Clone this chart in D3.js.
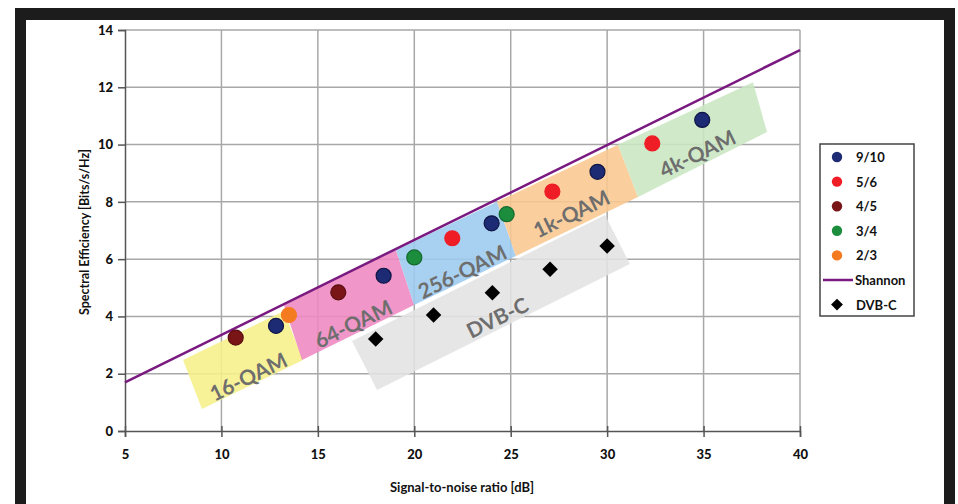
<!DOCTYPE html>
<html>
<head>
<meta charset="utf-8">
<script src="https://cdn.jsdelivr.net/npm/d3@7/dist/d3.min.js"></script>
<style>
  html, body { margin: 0; padding: 0; background: #fff; }
  svg { display: block; }
  text { font-family: Lato, "Open Sans", "DejaVu Sans", sans-serif; font-weight: bold; }
</style>
</head>
<body>
<svg id="chart" width="958" height="504"></svg>
<script>
// ---------------- data ----------------
const xTicks = [5, 10, 15, 20, 25, 30, 35, 40];
const yTicks = [0, 2, 4, 6, 8, 10, 12, 14];
const xTitle = "Signal-to-noise ratio [dB]";
const yTitle = "Spectral Efficiency [Bits/s/Hz]";

const seriesNames = ["9/10", "5/6", "4/5", "3/4", "2/3"];
const rate910 = [[12.83, 3.67], [18.41, 5.42], [24.01, 7.25], [29.5, 9.05], [34.93, 10.86]];
const rate56  = [[21.97, 6.73], [27.16, 8.36], [32.34, 10.04]];
const rate45  = [[10.74, 3.26], [16.06, 4.84]];
const rate34  = [[20.0, 6.06], [24.79, 7.57]];
const rate23  = [[13.5, 4.05]];
const dvbC    = [[18.0, 3.21], [21.0, 4.05], [24.05, 4.83], [27.04, 5.65], [30.0, 6.46]];
const shannon = [[5, 1.7], [40, 13.3]];

// band outlines (corners in dB / bits) and label anchors
const bandNames = ["DVB-C", "16-QAM", "64-QAM", "256-QAM", "1k-QAM", "4k-QAM"];
const bandCorners = [
  [[16.77, 3.14], [29.89, 7.54], [31.18, 5.83], [18.07, 1.43]],
  [[8.01, 2.48], [13.24, 4.19], [14.23, 2.48], [8.99, 0.77]],
  [[13.24, 4.40], [19.05, 6.32], [19.99, 4.40], [14.18, 2.48]],
  [[19.05, 6.32], [24.29, 8.0], [25.27, 6.11], [19.99, 4.40]],
  [[24.29, 8.0], [30.56, 9.99], [31.6, 8.17], [25.27, 6.11]],
  [[30.56, 9.99], [37.56, 12.18], [38.29, 10.44], [31.6, 8.17]]
];
const bandLabelAt = [[24.29, 3.98], [11.38, 1.92], [16.82, 3.77], [22.47, 5.59], [28.13, 7.61], [34.66, 9.71]];

// ---------------- styles ----------------
const bandFill = ["#e3e3e3", "#f6ef8a", "#ee88c0", "#9cc9ee", "#fbc890", "#c9e7c1"];
const seriesFill = { "9/10": "#1c2b74", "5/6": "#ee1d26", "4/5": "#7a1517", "3/4": "#1b8d3d", "2/3": "#f57b20" };
const seriesStroke = { "9/10": "#0e1545", "5/6": "#ee1d26", "4/5": "#5a0e10", "3/4": "#146a2e", "2/3": "#f57b20" };
const seriesData = { "9/10": rate910, "5/6": rate56, "4/5": rate45, "3/4": rate34, "2/3": rate23 };

const svg = d3.select("#chart");

// frame
const frame = svg.append("g");
frame.append("rect").attr("x", 15).attr("y", 8).attr("width", 940).attr("height", 12).attr("fill", "#1c1c1c");
frame.append("rect").attr("x", 15).attr("y", 8).attr("width", 11).attr("height", 496).attr("fill", "#1c1c1c");
frame.append("rect").attr("x", 944).attr("y", 8).attr("width", 11).attr("height", 496).attr("fill", "#1c1c1c");

const x = d3.scaleLinear().domain([5, 40]).range([125, 800]);
const y = d3.scaleLinear().domain([0, 14]).range([431, 30]);

// grid
const grid = svg.append("g");
grid.selectAll("line.v").data(xTicks.slice(1)).join("line")
  .attr("x1", d => x(d)).attr("x2", d => x(d)).attr("y1", y(0)).attr("y2", y(14))
  .attr("stroke", "#a8a8a8").attr("stroke-width", 1.5);
grid.selectAll("line.h").data(yTicks.slice(1)).join("line")
  .attr("x1", x(5)).attr("x2", x(40)).attr("y1", d => y(d)).attr("y2", d => y(d))
  .attr("stroke", "#a8a8a8").attr("stroke-width", 1.5);

// bands
const line = d3.line().x(d => x(d[0])).y(d => y(d[1]));
const bands = svg.append("g");
bandCorners.forEach((c, i) => {
  bands.append("path").attr("d", line(c) + "Z").attr("fill", bandFill[i]).attr("fill-opacity", 0.88);
});
bandNames.forEach((n, i) => {
  const p = bandLabelAt[i];
  bands.append("text")
    .attr("transform", `translate(${x(p[0])},${y(p[1])}) rotate(-26)`)
    .attr("text-anchor", "middle").attr("dominant-baseline", "central")
    .attr("font-size", 21).attr("fill", "#6e6e6e").text(n);
});

// axes
const yAxis = svg.append("g").attr("transform", `translate(${x(5)},0)`)
  .call(d3.axisLeft(y).tickValues(yTicks).tickSize(7).tickPadding(5).tickFormat(d3.format("d")));
const xAxis = svg.append("g").attr("transform", `translate(0,${y(0)})`)
  .call(d3.axisBottom(x).tickValues(xTicks).tickSize(6).tickPadding(13).tickFormat(d3.format("d")));
[xAxis, yAxis].forEach(a => {
  a.select(".domain").attr("stroke", "#555").attr("stroke-width", 1.5);
  a.selectAll(".tick line").attr("stroke", "#555").attr("stroke-width", 1.5);
  a.selectAll(".tick text").attr("font-size", 13).attr("fill", "#111")
    .style("font-family", "Lato, sans-serif").style("font-weight", "900");
});
xAxis.selectAll(".tick line").attr("y1", -5);

svg.append("text").attr("x", 462).attr("y", 492).attr("text-anchor", "middle")
  .attr("font-size", 13).attr("fill", "#111").text(xTitle);
svg.append("text").attr("transform", "translate(89,232) rotate(-90)").attr("text-anchor", "middle")
  .attr("font-size", 12.5).attr("fill", "#111").text(yTitle);

// Shannon line
svg.append("path").attr("d", line(shannon)).attr("fill", "none")
  .attr("stroke", "#7a1a80").attr("stroke-width", 2.5);

// DVB-C diamonds
svg.append("g").selectAll("path").data(dvbC).join("path")
  .attr("transform", d => `translate(${x(d[0])},${y(d[1])}) rotate(45)`)
  .attr("d", d3.symbol().type(d3.symbolSquare).size(120)).attr("fill", "#000");

// series circles
seriesNames.forEach(n => {
  svg.append("g").selectAll("circle").data(seriesData[n]).join("circle")
    .attr("cx", d => x(d[0])).attr("cy", d => y(d[1])).attr("r", 7.5)
    .attr("fill", seriesFill[n]).attr("stroke", seriesStroke[n]).attr("stroke-width", 1.2);
});

// legend
const lg = svg.append("g");
lg.append("rect").attr("x", 820).attr("y", 144).attr("width", 94).attr("height", 172)
  .attr("fill", "#fff").attr("stroke", "#444").attr("stroke-width", 1.5);
const legendItems = seriesNames.concat(["Shannon", "DVB-C"]);
legendItems.forEach((n, i) => {
  const cy = 157 + i * 24.6;
  if (seriesFill[n]) {
    lg.append("circle").attr("cx", 837).attr("cy", cy).attr("r", 5.2).attr("fill", seriesFill[n]);
  } else if (n === "Shannon") {
    lg.append("line").attr("x1", 823).attr("x2", 853).attr("y1", cy).attr("y2", cy)
      .attr("stroke", "#7a1a80").attr("stroke-width", 2.5);
  } else {
    lg.append("path").attr("transform", `translate(837,${cy}) rotate(45)`)
      .attr("d", d3.symbol().type(d3.symbolSquare).size(70)).attr("fill", "#000");
  }
  lg.append("text").attr("x", n === "Shannon" ? 855 : 856).attr("y", cy).attr("dominant-baseline", "central")
    .attr("font-size", 13).attr("fill", "#111").text(n);
});
</script>
</body>
</html>
